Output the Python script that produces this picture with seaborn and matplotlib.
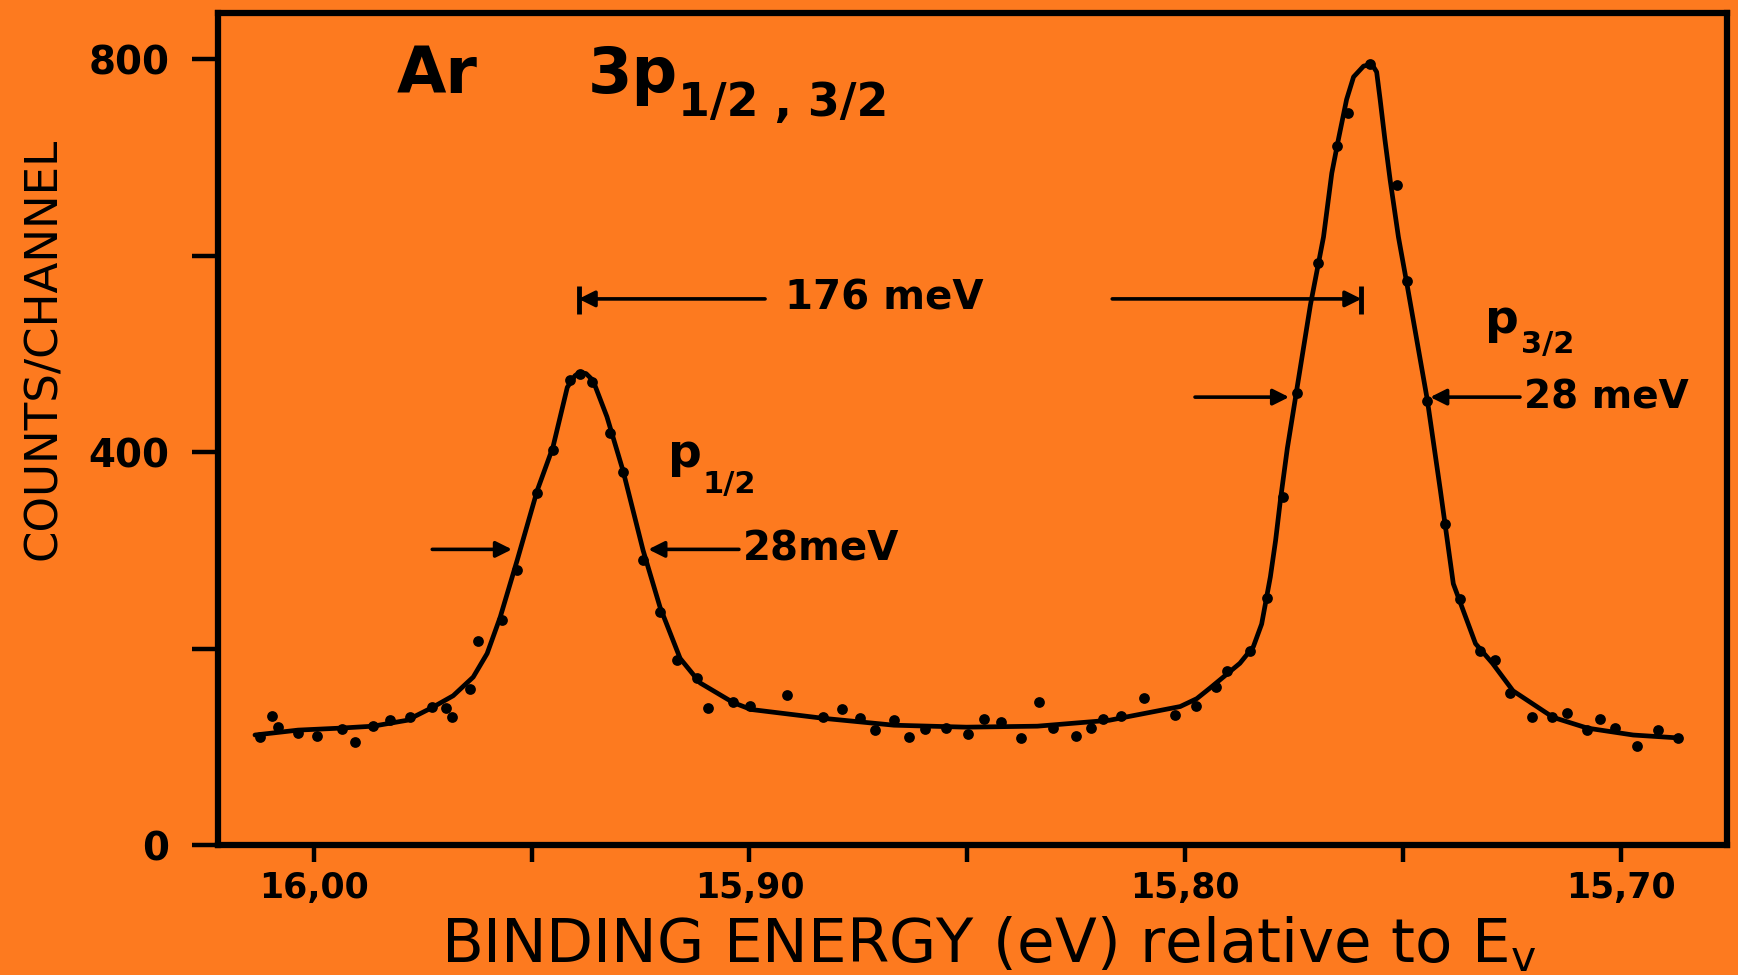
import matplotlib
matplotlib.use("Agg")
import matplotlib.pyplot as plt
import seaborn as sns
import pandas as pd

# ---- measured data points (binding energy in eV, counts/channel) ----
energy_pts = [16.0123, 16.0096, 16.0082, 16.0036, 15.9992, 15.9935, 15.9905, 15.9864,
              15.9825, 15.9779, 15.9728, 15.9696, 15.9683, 15.9641, 15.9623, 15.9568,
              15.9533, 15.9487, 15.9451, 15.9412, 15.9389, 15.9361, 15.9320, 15.9290,
              15.9244, 15.9205, 15.9166, 15.9120, 15.9095, 15.9037, 15.8998, 15.8913,
              15.8830, 15.8787, 15.8746, 15.8711, 15.8668, 15.8633, 15.8597, 15.8548,
              15.8498, 15.8461, 15.8422, 15.8376, 15.8335, 15.8303, 15.8250, 15.8215,
              15.8188, 15.8147, 15.8094, 15.8023, 15.7975, 15.7929, 15.7904, 15.7851,
              15.7812, 15.7775, 15.7743, 15.7695, 15.7651, 15.7626, 15.7575, 15.7513,
              15.7490, 15.7444, 15.7403, 15.7368, 15.7322, 15.7288, 15.7253, 15.7203,
              15.7157, 15.7122, 15.7076, 15.7047, 15.7012, 15.6962, 15.6914, 15.6868]
counts_pts = [110, 131, 120, 114, 111, 118, 105, 121,
              127, 130, 141, 139, 130, 159, 208, 229,
              280, 358, 402, 473, 480, 471, 419, 380,
              290, 237, 188, 170, 139, 146, 142, 153,
              130, 138, 129, 117, 127, 110, 118, 119,
              113, 128, 125, 109, 146, 119, 111, 119,
              128, 131, 150, 132, 142, 161, 177, 198,
              252, 354, 460, 593, 712, 745, 795, 672,
              574, 452, 327, 250, 198, 188, 155, 130,
              130, 134, 117, 128, 119, 101, 117, 109]

# ---- fitted curve ----
energy_fit = [16.0135, 16.0036, 15.9940, 15.9864, 15.9786, 15.9728, 15.9680, 15.9634,
              15.9602, 15.9572, 15.9533, 15.9487, 15.9451, 15.9418, 15.9400, 15.9389,
              15.9375, 15.9359, 15.9327, 15.9290, 15.9244, 15.9205, 15.9159, 15.9113,
              15.9037, 15.8996, 15.8830, 15.8668, 15.8502, 15.8339, 15.8174, 15.8011,
              15.7973, 15.7942, 15.7912, 15.7874, 15.7843, 15.7824, 15.7804, 15.7792,
              15.7781, 15.7765, 15.7712, 15.7682, 15.7663, 15.7648, 15.7629, 15.7613,
              15.7590, 15.7571, 15.7560, 15.7552, 15.7541, 15.7529, 15.7510, 15.7490,
              15.7444, 15.7414, 15.7384, 15.7333, 15.7294, 15.7247, 15.7155, 15.7076,
              15.6971, 15.6866]
counts_fit = [112, 117, 119, 121, 127, 140, 152, 171,
              195, 232, 290, 361, 405, 466, 478, 481,
              480, 473, 436, 381, 300, 242, 190, 165,
              145, 138, 129, 122, 120, 121, 127, 141,
              149, 160, 171, 185, 202, 225, 273, 310,
              351, 404, 550, 619, 684, 718, 759, 782,
              793, 795, 787, 759, 718, 677, 619, 570,
              454, 362, 266, 205, 185, 157, 130, 119,
              112, 109]

y_ticks = [0, 200, 400, 600, 800]
y_tick_labels = ["0", "", "400", "", "800"]
x_ticks = [16.00, 15.95, 15.90, 15.85, 15.80, 15.75, 15.70]
x_tick_labels = ["16,00", "", "15,90", "", "15,80", "", "15,70"]

BG = "#FD7A1F"

sns.set_theme(style="ticks")
plt.rcParams["font.family"] = ["DejaVu Sans"]
plt.rcParams["axes.edgecolor"] = "black"

fig = plt.figure(figsize=(17.38, 9.75), dpi=100, facecolor=BG)
ax = fig.add_axes([0.1254, 0.1333, 0.8682, 0.8533], facecolor=BG)

fit_df = pd.DataFrame({"energy": energy_fit, "counts": counts_fit})
pts_df = pd.DataFrame({"energy": energy_pts, "counts": counts_pts})

sns.lineplot(data=fit_df, x="energy", y="counts", ax=ax, color="black",
             lw=3.4, estimator=None, sort=True, zorder=2)
sns.scatterplot(data=pts_df, x="energy", y="counts", ax=ax, color="black",
                s=60, linewidth=0, zorder=3)

ax.set_xlim(16.022, 15.6756)
ax.set_ylim(0, 847)
ax.set_xlabel("")
ax.set_ylabel("")

for sp in ax.spines.values():
    sp.set_visible(True)
    sp.set_linewidth(4.5)
    sp.set_color("black")

ax.set_yticks(y_ticks)
ax.set_yticklabels(y_tick_labels)
ax.set_xticks(x_ticks)
ax.set_xticklabels(x_tick_labels)
ax.tick_params(axis="y", direction="out", length=19, width=3.2, pad=16,
               labelsize=28, colors="black")
ax.tick_params(axis="x", direction="out", length=12, width=3.2, pad=7,
               labelsize=25, colors="black")
for lab in ax.get_xticklabels() + ax.get_yticklabels():
    lab.set_fontweight("bold")

# ---- title inside the frame ----
ax.text(15.9809, 766, "Ar", fontsize=46, fontweight="bold", ha="left",
        va="baseline", color="black")
ax.text(15.9371, 766, "3p", fontsize=46, fontweight="bold", ha="left",
        va="baseline", color="black")
ax.text(15.9164, 742, "1/2 , 3/2", fontsize=33, fontweight="bold", ha="left",
        va="baseline", color="black")

# ---- 176 meV splitting ----
arr = dict(arrowstyle="-|>", color="black", lw=2.6, mutation_scale=24,
           shrinkA=0, shrinkB=0)
ax.annotate("", xy=(15.9392, 556), xytext=(15.8964, 556), arrowprops=arr)
ax.annotate("", xy=(15.7595, 556), xytext=(15.8167, 556), arrowprops=arr)
ax.vlines([15.9392, 15.7595], 541, 569, color="black", lw=3.5)
ax.text(15.8918, 556, "176 meV", fontsize=29, fontweight="bold", ha="left",
        va="center", color="black")

# ---- p1/2 label and width ----
ax.text(15.9187, 385, "p", fontsize=34, fontweight="bold", ha="left",
        va="baseline", color="black")
ax.text(15.9108, 358, "1/2", fontsize=22, fontweight="bold", ha="left",
        va="baseline", color="black")
ax.annotate("", xy=(15.9545, 301), xytext=(15.9728, 301), arrowprops=arr)
ax.annotate("", xy=(15.9232, 301), xytext=(15.9024, 301), arrowprops=arr)
ax.text(15.9015, 301, "28meV", fontsize=29, fontweight="bold", ha="left",
        va="center", color="black")

# ---- p3/2 label and width ----
ax.text(15.7311, 521, "p", fontsize=34, fontweight="bold", ha="left",
        va="baseline", color="black")
ax.text(15.7228, 501, "3/2", fontsize=22, fontweight="bold", ha="left",
        va="baseline", color="black")
ax.annotate("", xy=(15.7761, 456), xytext=(15.7977, 456), arrowprops=arr)
ax.annotate("", xy=(15.7437, 456), xytext=(15.7231, 456), arrowprops=arr)
ax.text(15.7222, 456, "28 meV", fontsize=28, fontweight="bold", ha="left",
        va="center", color="black")

# ---- axis labels ----
fig.text(44 / 1738, 1 - 349 / 975, "COUNTS/CHANNEL", rotation=90,
         ha="center", va="center", fontsize=32.5, color="black")
fig.text(989 / 1738, 1 - 945 / 975,
         r"BINDING ENERGY (eV) relative to E$_{\mathregular{v}}$",
         ha="center", va="center", fontsize=44, color="black")

fig.savefig("out.png", dpi=100, facecolor=BG)
